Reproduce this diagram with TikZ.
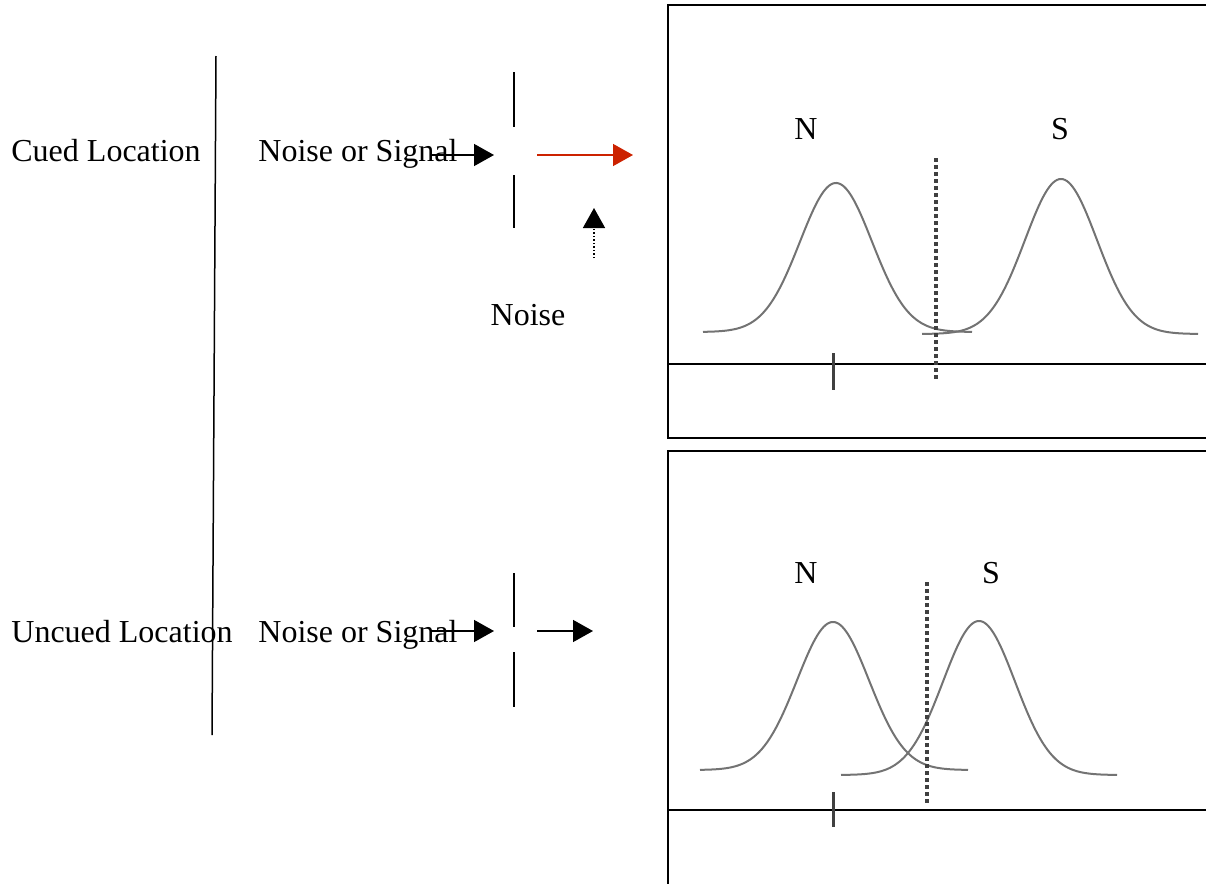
\documentclass[tikz,border=0pt]{standalone}
\usepackage{fontspec}
\setmainfont{Liberation Serif}
\usetikzlibrary{arrows.meta,positioning,calc}
\definecolor{cueRed}{RGB}{204,34,0}
\colorlet{curveGray}{black!55}
\colorlet{critGray}{black!75}

\begin{document}
\begin{tikzpicture}[
    x=0.5pt,y=-0.5pt,
    lbl/.style={inner sep=0pt,font=\fontsize{16}{19}\selectfont},
    arr/.style={-{Triangle[length=10pt,width=11pt]},line width=0.75pt},
    gate/.style={line width=0.75pt},
    frame/.style={line width=1pt},
    curve/.style={curveGray,line width=1pt},
    crit/.style={critGray,line width=1.6pt,dash pattern=on 2pt off 1.5pt},
    tick/.style={critGray,line width=1.5pt}
  ]
    \useasboundingbox (0,0) rectangle (1206,884);
    % labels
    \node[lbl,anchor=base west] (cued) at (11,161) {Cued Location};
    \node[lbl,anchor=base west] (uncued) at (11,642) {Uncued Location};
    \node[lbl,anchor=base west] (nsTop) at (258,161) {Noise or Signal};
    \node[lbl,anchor=base west] (nsBot) at (258,642) {Noise or Signal};
    \node[lbl,anchor=base] (noise) at (528,325) {Noise};
    % divider
    \coordinate (divTop) at (216,56);
    \coordinate (divBot) at (212,735);
    \draw[gate] (divTop) -- (divBot);
    % cued channel
    \coordinate (inTop) at (430,155);
    \coordinate (gateTop) at (494,155);
    \coordinate (outTop) at (537,155);
    \coordinate (tipTop) at (633,155);
    \draw[arr] (inTop) -- (gateTop);
    \draw[gate] (514,72) -- (514,127) (514,175) -- (514,228);
    \draw[arr,cueRed] (outTop) -- (tipTop);
    \coordinate (noiseIn) at (594,258);
    \coordinate (noiseTip) at (594,208);
    \draw[arr,densely dotted] (noiseIn) -- (noiseTip);
    % uncued channel
    \coordinate (inBot) at (430,631);
    \coordinate (gateBot) at (494,631);
    \coordinate (outBot) at (537,631);
    \coordinate (tipBot) at (593,631);
    \draw[arr] (inBot) -- (gateBot);
    \draw[gate] (514,573) -- (514,627) (514,652) -- (514,707);
    \draw[arr] (outBot) -- (tipBot);
    % upper panel
    \draw[frame] (1210,5) -- (668,5) -- (668,438) -- (1210,438);
    \draw[frame] (668,364) -- (1210,364);
    \node[lbl,anchor=base] (nTop) at (806,139) {N};
    \node[lbl,anchor=base] (sTop) at (1060,139) {S};
    \draw[curve] plot[domain=703:972,samples=140] (\x,{332-149*exp(-((\x-836)/36)^2/2)});
    \draw[curve] plot[domain=922:1198,samples=140] (\x,{334-155*exp(-((\x-1061)/36)^2/2)});
    \draw[crit] (936,158) -- (936,380);
    \draw[tick] (833,353) -- (833,390);
    % lower panel
    \draw[frame] (1210,451) -- (668,451) -- (668,890);
    \draw[frame] (668,810) -- (1210,810);
    \node[lbl,anchor=base] (nBot) at (806,583) {N};
    \node[lbl,anchor=base] (sBot) at (991,583) {S};
    \draw[curve] plot[domain=700:968,samples=140] (\x,{770-148*exp(-((\x-833)/36)^2/2)});
    \draw[curve] plot[domain=841:1117,samples=140] (\x,{775-154*exp(-((\x-979)/36)^2/2)});
    \draw[crit] (927,582) -- (927,803);
    \draw[tick] (833,792) -- (833,827);
  \end{tikzpicture}
\end{document}
